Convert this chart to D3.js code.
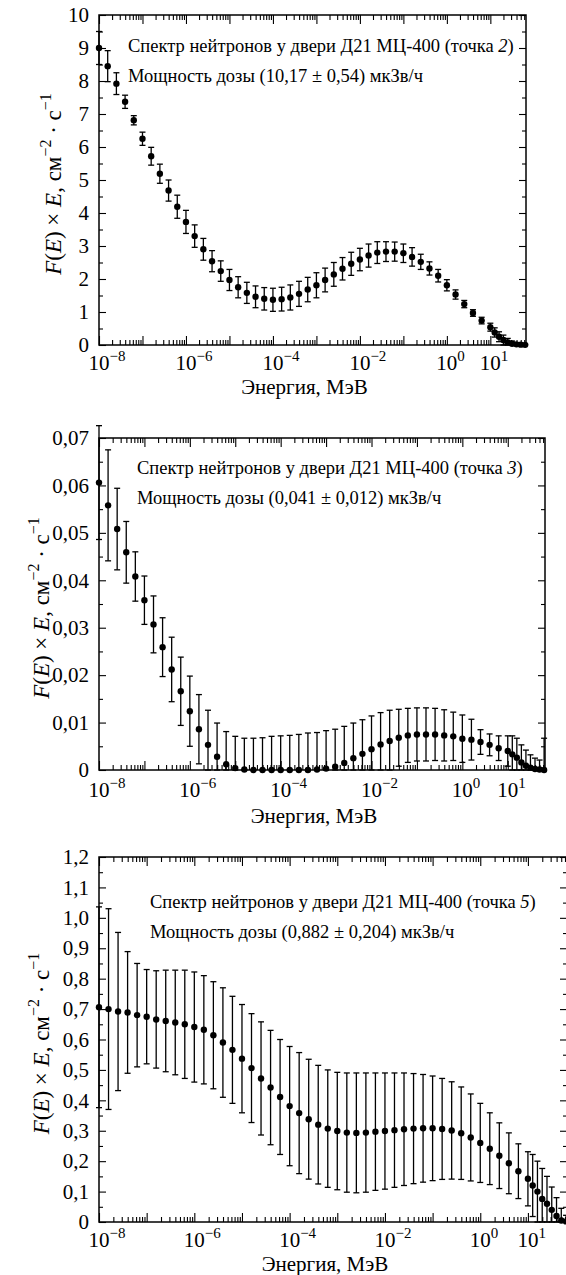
<!DOCTYPE html>
<html>
<head>
<meta charset="utf-8">
<script src="https://cdn.jsdelivr.net/npm/d3@7"></script>
<style>
  body { margin: 0; background: #fff; }
  .tick line { stroke: #000; stroke-width: 1.1; }
</style>
</head>
<body>
<div id="chart"></div>
<script>
// Energy grid, log10(E / MeV)
const logEnergy = [-8, -7.8, -7.6, -7.4, -7.2, -7, -6.8, -6.6, -6.4, -6.2,
    -6, -5.8, -5.6, -5.4, -5.2, -5, -4.8, -4.6, -4.4, -4.2,
    -4, -3.8, -3.6, -3.4, -3.2, -3, -2.8, -2.6, -2.4, -2.2,
    -2, -1.8, -1.6, -1.4, -1.2, -1, -0.8, -0.6, -0.4, -0.2,
    0, 0.2, 0.4, 0.6, 0.8, 1, 1.1, 1.2, 1.3, 1.4, 1.5, 1.6, 1.7, 1.8];

// точка 2
const spectrum2 = [9.0, 8.45, 7.92, 7.37, 6.81, 6.25, 5.72, 5.19, 4.68, 4.19,
    3.73, 3.30, 2.90, 2.54, 2.24, 1.97, 1.75, 1.58, 1.46, 1.40,
    1.37, 1.39, 1.44, 1.55, 1.68, 1.81, 1.97, 2.14, 2.31, 2.46,
    2.59, 2.71, 2.80, 2.83, 2.83, 2.78, 2.67, 2.52, 2.32, 2.10,
    1.81, 1.53, 1.24, 0.97, 0.74, 0.54, 0.38, 0.25, 0.15, 0.08, 0.04, 0.02, 0.01, 0.005];
const error2 = [0.5, 0.47, 0.33, 0.2, 0.14, 0.2, 0.27, 0.29, 0.32, 0.35,
    0.35, 0.34, 0.33, 0.32, 0.31, 0.32, 0.32, 0.32, 0.33, 0.34,
    0.35, 0.36, 0.38, 0.38, 0.37, 0.38, 0.36, 0.36, 0.34, 0.35,
    0.34, 0.35, 0.33, 0.30, 0.29, 0.28, 0.28, 0.23, 0.20, 0.19,
    0.17, 0.14, 0.11, 0.10, 0.10, 0.12, 0.14, 0.15, 0.15, 0.12, 0.08, 0.05, 0.03, 0.02];

// точка 3
const spectrum3 = [0.0606, 0.0558, 0.0508, 0.0459, 0.0408, 0.0358, 0.0307, 0.0259, 0.0212, 0.0166,
    0.0124, 0.0086, 0.0053, 0.0028, 0.0012, 0.0004, 0.0001, 0, 0, 0,
    0, 0, 0, 0, 0.0001, 0.0003, 0.0007, 0.0015, 0.0025, 0.0034,
    0.0044, 0.0054, 0.0061, 0.0068, 0.0073, 0.0075, 0.0075, 0.0075, 0.0073, 0.0071,
    0.0066, 0.0064, 0.0059, 0.0053, 0.0046, 0.0040, 0.0033, 0.0026, 0.0016, 0.0009, 0.0005, 0.0002, 0.0001, 0];
const error3 = [0.012, 0.0117, 0.0086, 0.0065, 0.0052, 0.0051, 0.0060, 0.0062, 0.0068, 0.0072,
    0.0074, 0.0073, 0.0073, 0.0071, 0.0069, 0.0067, 0.0066, 0.0067, 0.0068, 0.0071,
    0.0072, 0.0073, 0.0075, 0.0078, 0.0078, 0.0080, 0.0079, 0.0077, 0.0074, 0.0072,
    0.0070, 0.0067, 0.0065, 0.0060, 0.0057, 0.0056, 0.0056, 0.0055, 0.0054, 0.0051,
    0.0050, 0.0043, 0.0026, 0.0023, 0.0026, 0.0032, 0.0039, 0.0041, 0.0037, 0.0033, 0.0027, 0.0023, 0.0020, 0.0067];

// точка 5
const spectrum5 = [0.706, 0.700, 0.692, 0.689, 0.680, 0.675, 0.666, 0.661, 0.656, 0.650,
    0.641, 0.632, 0.614, 0.590, 0.566, 0.537, 0.506, 0.472, 0.442, 0.411,
    0.381, 0.358, 0.338, 0.320, 0.307, 0.299, 0.294, 0.293, 0.294, 0.297,
    0.299, 0.302, 0.305, 0.307, 0.308, 0.308, 0.306, 0.301, 0.292, 0.278,
    0.260, 0.241, 0.218, 0.193, 0.167, 0.142, 0.120, 0.100, 0.076, 0.060, 0.040, 0.020, 0.005, 0.002];
const error5 = [0.33, 0.33, 0.26, 0.20, 0.17, 0.155, 0.16, 0.167, 0.172, 0.178,
    0.181, 0.178, 0.176, 0.18, 0.176, 0.178, 0.179, 0.186, 0.188, 0.189,
    0.196, 0.199, 0.197, 0.195, 0.193, 0.193, 0.196, 0.197, 0.196, 0.193,
    0.191, 0.188, 0.185, 0.181, 0.177, 0.172, 0.166, 0.160, 0.152, 0.143,
    0.130, 0.118, 0.108, 0.100, 0.090, 0.089, 0.102, 0.100, 0.100, 0.090, 0.075, 0.060, 0.040, 0.020];

const xLabelExponents = [-8, -6, -4, -2, 0, 1];
const yTicks2 = [0, 1, 2, 3, 4, 5, 6, 7, 8, 9, 10];
const yTicks3 = [0, 0.01, 0.02, 0.03, 0.04, 0.05, 0.06, 0.07];
const yTicks5 = [0, 0.1, 0.2, 0.3, 0.4, 0.5, 0.6, 0.7, 0.8, 0.9, 1.0, 1.1, 1.2];

const titles = [
    {point: "2", dose: "Мощность дозы (10,17 ± 0,54) мкЗв/ч"},
    {point: "3", dose: "Мощность дозы (0,041 ± 0,012) мкЗв/ч"},
    {point: "5", dose: "Мощность дозы (0,882 ± 0,204) мкЗв/ч"}
];

const serif = "'Liberation Serif', 'Times New Roman', serif";
const width = 566, height = 1275;
const svg = d3.select("#chart").append("svg")
    .attr("width", width)
    .attr("height", height)
    .attr("font-family", serif);

const ru = d3.formatLocale({decimal: ",", thousands: " ", grouping: [3], currency: ["", ""]});

function drawPanel(p) {
    const g = svg.append("g");
    const x = d3.scaleLog()
        .domain([1e-8, Math.pow(10, 1.82)])
        .range([p.left, p.right]);
    const y = d3.scaleLinear()
        .domain([0, p.yMax])
        .range([p.bottom, p.top]);

    const majors = xLabelExponents.map(e => Math.pow(10, e));
    const allMajors = d3.range(-8, 2).map(e => Math.pow(10, e));
    const minors = [];
    allMajors.forEach(m => d3.range(2, 10).forEach(k => {
        if (m * k < x.domain()[1]) minors.push(m * k);
    }));

    // x ticks, bottom and top (inward)
    g.append("g").attr("transform", `translate(0,${p.bottom})`)
        .call(d3.axisBottom(x).tickValues(allMajors).tickSize(-9).tickFormat(""));
    g.append("g").attr("transform", `translate(0,${p.bottom})`)
        .call(d3.axisBottom(x).tickValues(minors).tickSize(-5).tickFormat(""));
    g.append("g").attr("transform", `translate(0,${p.top})`)
        .call(d3.axisTop(x).tickValues(allMajors).tickSize(-9).tickFormat(""));
    g.append("g").attr("transform", `translate(0,${p.top})`)
        .call(d3.axisTop(x).tickValues(minors).tickSize(-5).tickFormat(""));

    // x tick labels 10^n, the "10" centred on the tick
    const xl = g.append("g").attr("font-size", 21);
    majors.forEach((v, i) => {
        const t = xl.append("text")
            .attr("x", x(v) - 10.5)
            .attr("y", p.bottom + p.labelDy);
        t.append("tspan").text("10");
        t.append("tspan").attr("font-size", 15).attr("dy", -9)
            .text(String(xLabelExponents[i]).replace("-", "−"));
    });

    // y ticks, left and right
    const fmt = d => d === 0 ? "0" : ru.format(p.fmt)(d);
    const yMinor = p.yTicks.slice(0, -1).map((d, i) => (d + p.yTicks[i + 1]) / 2);
    g.append("g").attr("transform", `translate(${p.left},0)`)
        .call(d3.axisLeft(y).tickValues(p.yTicks).tickSize(-7).tickPadding(10).tickFormat(fmt))
        .attr("font-size", 21);
    g.append("g").attr("transform", `translate(${p.left},0)`)
        .call(d3.axisLeft(y).tickValues(yMinor).tickSize(-4).tickFormat(""));
    g.append("g").attr("transform", `translate(${p.right},0)`)
        .call(d3.axisRight(y).tickValues(p.yTicks).tickSize(-7).tickFormat(""));
    g.append("g").attr("transform", `translate(${p.right},0)`)
        .call(d3.axisRight(y).tickValues(yMinor).tickSize(-4).tickFormat(""));
    g.selectAll(".domain").remove();
    g.selectAll("g").attr("font-family", serif);
    g.selectAll(".tick text").attr("fill", "#000");

    // frame
    g.append("rect")
        .attr("x", p.left).attr("y", p.top)
        .attr("width", p.right - p.left).attr("height", p.bottom - p.top)
        .attr("fill", "none").attr("stroke", "#000").attr("stroke-width", 1.5);

    // data: error bars and points
    const data = logEnergy.map((e, i) => ({e: Math.pow(10, e), v: p.values[i], err: p.errors[i]}));
    const bars = g.append("g").attr("stroke", "#000").attr("stroke-width", 1.3);
    data.forEach(d => {
        const cx = x(d.e);
        const y0 = y(Math.max(0, d.v - d.err)), y1 = y(d.v + d.err);
        bars.append("line").attr("x1", cx).attr("x2", cx).attr("y1", y0).attr("y2", y1);
        bars.append("line").attr("x1", cx - 3).attr("x2", cx + 3).attr("y1", y1).attr("y2", y1);
        bars.append("line").attr("x1", cx - 3).attr("x2", cx + 3).attr("y1", y0).attr("y2", y0);
    });
    g.append("g").selectAll("circle")
        .data(data).join("circle")
        .attr("cx", d => x(d.e))
        .attr("cy", d => y(d.v))
        .attr("r", 3.2)
        .attr("fill", "#000");

    // annotation
    const a = g.append("g").attr("font-size", 18.5);
    const t1 = a.append("text").attr("x", p.textX).attr("y", p.textY);
    t1.append("tspan").text("Спектр нейтронов у двери Д21 МЦ-400 (точка ");
    t1.append("tspan").attr("font-style", "italic").text(p.title.point);
    t1.append("tspan").text(")");
    a.append("text").attr("x", p.textX).attr("y", p.textY + 30).text(p.title.dose);

    // axis titles
    g.append("text")
        .attr("x", (p.left + p.right) / 2 - 8)
        .attr("y", p.bottom + p.titleDy)
        .attr("text-anchor", "middle")
        .attr("font-size", 21)
        .text("Энергия, МэВ");

    const yt = g.append("text")
        .attr("transform", `translate(${p.yTitleX},${(p.top + p.bottom) / 2 + 4}) rotate(-90)`)
        .attr("text-anchor", "middle")
        .attr("font-size", 23);
    yt.append("tspan").attr("font-style", "italic").text("F");
    yt.append("tspan").text("(");
    yt.append("tspan").attr("font-style", "italic").text("E");
    yt.append("tspan").text(")  ×  ");
    yt.append("tspan").attr("font-style", "italic").text("E");
    yt.append("tspan").text(", см");
    yt.append("tspan").attr("font-size", 16).attr("dy", -10).text("−2");
    yt.append("tspan").attr("dy", 10).text(" · с");
    yt.append("tspan").attr("font-size", 16).attr("dy", -10).text("−1");
}

drawPanel({left: 99, right: 526, top: 15, bottom: 345, yMax: 10, yTicks: yTicks2, fmt: ".0f",
    values: spectrum2, errors: error2, title: titles[0], textX: 128, textY: 52,
    labelDy: 25, titleDy: 49, yTitleX: 61});
drawPanel({left: 99, right: 545, top: 438, bottom: 770, yMax: 0.07, yTicks: yTicks3, fmt: ".2f",
    values: spectrum3, errors: error3, title: titles[1], textX: 137, textY: 474,
    labelDy: 27, titleDy: 53, yTitleX: 49});
drawPanel({left: 99, right: 567, top: 857, bottom: 1222, yMax: 1.2, yTicks: yTicks5, fmt: ".1f",
    values: spectrum5, errors: error5, title: titles[2], textX: 150, textY: 908,
    labelDy: 25, titleDy: 49, yTitleX: 49});
</script>
</body>
</html>
